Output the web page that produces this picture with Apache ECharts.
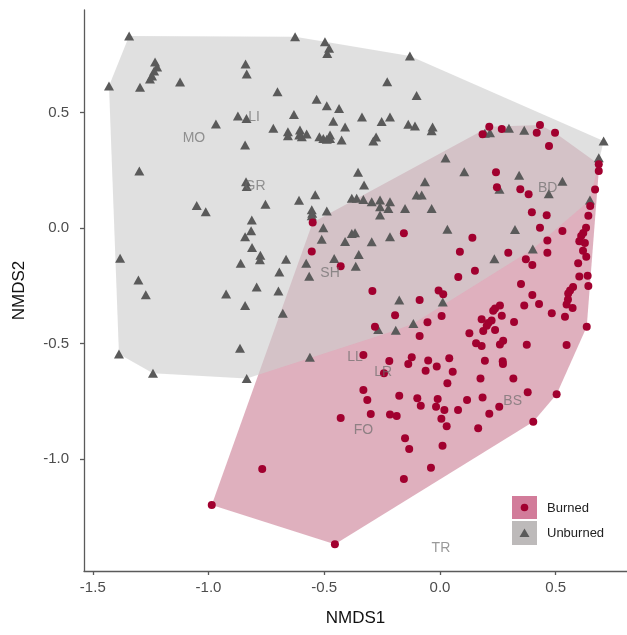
<!DOCTYPE html>
<html>
<head>
<meta charset="utf-8">
<script src="https://cdn.jsdelivr.net/npm/echarts@6/dist/echarts.min.js"></script>
<style>html,body{margin:0;padding:0;background:#fff;}#c{width:627px;height:635px;}</style>
</head>
<body>
<div id="c"></div>
<script>
const xTicks = [-1.5, -1.0, -0.5, 0.0, 0.5];
const yTicks = [-1.0, -0.5, 0.0, 0.5];

const unburnedX = [-1.343,-1.430,-1.296,-1.231,-1.222,-1.235,-1.244,-1.253,-1.123,-0.840,
-0.835,-0.702,-0.626,-0.968,-0.873,-0.836,-0.842,-0.720,-0.631,-0.657,
-0.657,-0.605,-0.608,-0.597,-0.576,-0.533,-0.521,-0.504,-0.475,-0.475,
-0.489,-0.425,-0.497,-0.479,-0.487,-0.130,-0.228,-0.101,-0.489,-0.436,
-0.337,-0.216,-0.252,-0.461,-0.410,-0.137,-0.108,-0.032,-0.036,-0.276,
-0.288,-1.299,-0.838,-0.835,-1.051,-1.012,-0.754,-0.609,-0.539,-0.554,
-0.552,-0.554,-0.489,-0.813,-0.816,-0.842,-0.812,-0.776,-0.778,-0.861,
-0.665,-0.578,-0.694,-0.565,-1.382,-1.303,-1.271,-0.924,-0.792,-0.698,
-0.842,-0.679,-1.387,-1.240,-0.864,-0.562,-0.835,-0.504,-0.511,-0.410,
-0.381,-0.367,-0.457,-0.364,-0.351,-0.354,-0.328,-0.381,-0.360,-0.331,
-0.295,-0.259,-0.216,-0.101,-0.079,-0.259,-0.223,-0.151,-0.036,-0.259,
-0.065,0.024,0.105,-0.295,-0.216,0.032,-0.176,0.012,-0.115,-0.191,
-0.267,0.235,0.324,0.401,0.216,0.194,0.298,0.364,0.707,0.686,
0.648,0.342,0.257,0.470,0.529];
const unburnedY = [0.831,0.615,0.610,0.719,0.697,0.680,0.658,0.645,0.632,0.710,
0.667,0.590,0.828,0.450,0.485,0.474,0.359,0.432,0.491,0.417,
0.400,0.424,0.403,0.395,0.407,0.558,0.395,0.388,0.403,0.388,
0.384,0.381,0.807,0.778,0.756,0.745,0.633,0.574,0.529,0.517,
0.481,0.481,0.461,0.462,0.437,0.449,0.442,0.437,0.421,0.394,
0.377,0.247,0.200,0.180,0.097,0.071,0.103,0.120,0.144,0.079,
0.064,0.053,0.074,0.035,-0.012,-0.038,-0.084,-0.118,-0.137,-0.152,
-0.135,-0.153,-0.190,-0.209,-0.131,-0.225,-0.289,-0.286,-0.255,-0.273,
-0.335,-0.369,-0.545,-0.629,-0.521,-0.560,-0.652,0.001,-0.049,-0.058,
-0.024,-0.020,-0.132,-0.165,-0.115,0.242,0.186,0.129,0.129,0.124,
0.114,0.121,0.114,0.143,0.143,0.092,0.085,0.085,0.085,0.056,
0.200,0.303,0.244,-0.059,-0.038,-0.005,-0.312,-0.320,-0.413,-0.443,
-0.439,-0.133,-0.006,-0.091,0.413,0.410,0.432,0.423,0.377,0.304,
0.121,0.228,0.168,0.148,0.203];

const burnedX = [0.213,0.184,0.267,0.432,0.418,0.497,0.471,0.686,0.686,0.670,
0.649,0.641,0.631,0.619,0.610,0.602,0.626,0.618,0.632,0.597,
0.602,0.638,0.641,0.575,0.562,0.554,0.553,0.547,0.573,0.540,
0.483,0.634,0.547,0.375,0.242,0.246,0.347,0.383,0.397,0.461,
0.432,0.529,0.464,0.464,0.371,0.399,0.295,0.140,0.086,0.151,
0.079,0.350,0.399,0.428,0.364,-0.156,
0.007,0.259,0.238,0.230,0.267,0.180,0.223,0.209,0.202,
0.320,0.238,0.187,0.127,0.156,0.180,0.273,0.259,0.040,0.194,
0.271,0.272,0.055,0.032,0.175,0.317,0.379,0.504,0.184,0.117,
0.256,0.213,0.078,0.019,0.006,0.029,0.165,0.403,0.011,-0.550,
-0.554,-0.429,-0.292,-0.088,-0.006,0.014,-0.194,-0.281,-0.054,-0.088,
-0.331,-0.219,-0.242,-0.122,-0.137,-0.051,-0.062,-0.014,-0.331,-0.314,
-0.176,-0.299,-0.216,-0.187,-0.098,-0.083,-0.010,-0.017,-0.429,-0.151,
-0.133,-0.039,-0.156,-0.768,-0.986,-0.454];
const burnedY = [0.439,0.406,0.429,0.446,0.413,0.413,0.355,0.276,0.247,0.167,
0.095,0.053,0.001,-0.022,-0.035,-0.057,-0.065,-0.098,-0.124,-0.152,
-0.210,-0.207,-0.251,-0.255,-0.271,-0.284,-0.309,-0.331,-0.346,-0.384,
-0.369,-0.427,-0.506,-0.505,0.242,0.177,0.168,0.146,0.068,0.055,
0.001,-0.013,-0.054,-0.107,-0.135,-0.160,-0.107,-0.042,-0.103,-0.185,
-0.212,-0.242,-0.290,-0.329,-0.335,-0.023,
-0.381,-0.335,-0.348,-0.358,-0.380,-0.395,-0.400,-0.411,-0.423,
-0.407,-0.442,-0.446,-0.456,-0.499,-0.511,-0.488,-0.504,-0.564,-0.575,
-0.577,-0.589,-0.622,-0.672,-0.651,-0.651,-0.711,-0.720,-0.734,-0.745,
-0.774,-0.804,-0.788,-0.788,-0.826,-0.858,-0.867,-0.839,-0.943,0.024,
-0.102,-0.165,-0.273,-0.312,-0.271,-0.287,-0.378,-0.427,-0.408,-0.468,
-0.550,-0.576,-0.629,-0.560,-0.589,-0.574,-0.618,-0.600,-0.701,-0.745,
-0.726,-0.805,-0.807,-0.814,-0.737,-0.769,-0.740,-0.774,-0.823,-0.910,
-0.957,-1.038,-1.087,-1.043,-1.199,-1.369];

const siteNames = ['MO','LI','GR','SH','BD','LL','LR','FO','BS','TR'];
const siteX = [-1.063,-0.803,-0.799,-0.475,0.465,-0.367,-0.245,-0.331,0.314,0.004];
const siteY = [0.388,0.482,0.180,-0.194,0.172,-0.557,-0.626,-0.877,-0.748,-1.384];

const groupNames = ['Burned', 'Unburned'];

function zip(a, b) { return a.map((v, i) => [v, b[i]]); }
function hull(pts) {
  const p = pts.slice().sort((a, b) => a[0] - b[0] || a[1] - b[1]);
  const cross = (o, a, b) => (a[0]-o[0])*(b[1]-o[1]) - (a[1]-o[1])*(b[0]-o[0]);
  const lower = [], upper = [];
  for (const q of p) { while (lower.length >= 2 && cross(lower[lower.length-2], lower[lower.length-1], q) <= 0) lower.pop(); lower.push(q); }
  for (let i = p.length - 1; i >= 0; i--) { const q = p[i]; while (upper.length >= 2 && cross(upper[upper.length-2], upper[upper.length-1], q) <= 0) upper.pop(); upper.push(q); }
  upper.pop(); lower.pop();
  return lower.concat(upper);
}

const burnedPts = zip(burnedX, burnedY);
const unburnedPts = zip(unburnedX, unburnedY);
const burnedHull = hull(burnedPts);
const unburnedHull = hull(unburnedPts);

function hullSeries(h, fill, z) {
  return {
    type: 'custom', coordinateSystem: 'cartesian2d', silent: true, z: z,
    data: [h[0]],
    renderItem: function (params, api) {
      return { type: 'polygon', shape: { points: h.map(p => api.coord(p)) }, style: { fill: fill, stroke: null } };
    }
  };
}

const RED = '#a1002f';
const GREY = '#5a5a5a';
const FONT = 'Liberation Sans, Arial, sans-serif';

const chart = echarts.init(document.getElementById('c'), null, { renderer: 'canvas' });
chart.setOption({
  animation: false,
  backgroundColor: '#ffffff',
  grid: { left: 84, right: 0, top: 10, bottom: 64, containLabel: false },
  xAxis: {
    type: 'value', min: -1.538, max: 0.808,
    splitLine: { show: false },
    axisLine: { show: true, onZero: false, lineStyle: { color: '#5a5a5a', width: 1.3 } },
    axisTick: { show: true, length: 4, customValues: xTicks, lineStyle: { color: '#5a5a5a', width: 1.3 } },
    axisLabel: { customValues: xTicks, formatter: v => v.toFixed(1), color: '#4d4d4d', fontSize: 15, margin: 9, fontFamily: FONT },
    name: 'NMDS1', nameLocation: 'middle', nameGap: 39,
    nameTextStyle: { fontSize: 17, color: '#111', fontFamily: FONT }
  },
  yAxis: {
    type: 'value', min: -1.485, max: 0.944,
    splitLine: { show: false },
    axisLine: { show: true, onZero: false, lineStyle: { color: '#5a5a5a', width: 1.3 } },
    axisTick: { show: true, length: 4, customValues: yTicks, lineStyle: { color: '#5a5a5a', width: 1.3 } },
    axisLabel: { customValues: yTicks, formatter: v => v.toFixed(1), color: '#4d4d4d', fontSize: 15, margin: 15, fontFamily: FONT },
    name: 'NMDS2', nameLocation: 'middle', nameGap: 56,
    nameTextStyle: { fontSize: 17, color: '#111', fontFamily: FONT }
  },
  series: [
    hullSeries(burnedHull, 'rgba(175,58,93,0.4)', 1),
    hullSeries(unburnedHull, 'rgba(205,205,205,0.62)', 2),
    {
      name: groupNames[1], type: 'scatter', z: 3, silent: true,
      symbol: 'triangle', symbolSize: [10, 9],
      itemStyle: { color: GREY, opacity: 1 },
      data: unburnedPts
    },
    {
      name: groupNames[0], type: 'scatter', z: 4, silent: true,
      symbol: 'circle', symbolSize: 8,
      itemStyle: { color: RED, opacity: 1 },
      data: burnedPts
    },
    {
      type: 'scatter', z: 5, silent: true, symbolSize: 0,
      data: siteNames.map((n, i) => ({ name: n, value: [siteX[i], siteY[i]] })),
      label: { show: true, position: 'inside', formatter: p => p.name, color: 'rgba(105,105,105,0.85)', fontSize: 14, fontFamily: FONT }
    }
  ],
  graphic: [
    { type: 'rect', shape: { x: 512, y: 496, width: 25, height: 23 }, style: { fill: '#d27c9a' }, z: 10 },
    { type: 'circle', shape: { cx: 524.5, cy: 507.5, r: 3.8 }, style: { fill: RED }, z: 11 },
    { type: 'rect', shape: { x: 512, y: 521, width: 25, height: 24 }, style: { fill: '#bdbaba' }, z: 10 },
    { type: 'polygon', shape: { points: [[524.5, 528.5], [529.5, 537], [519.5, 537]] }, style: { fill: GREY }, z: 11 },
    { type: 'text', x: 547, y: 508, style: { text: groupNames[0], fontSize: 13, fill: '#222', fontFamily: FONT, verticalAlign: 'middle' }, z: 11 },
    { type: 'text', x: 547, y: 533, style: { text: groupNames[1], fontSize: 13, fill: '#222', fontFamily: FONT, verticalAlign: 'middle' }, z: 11 }
  ]
});
</script>
</body>
</html>
